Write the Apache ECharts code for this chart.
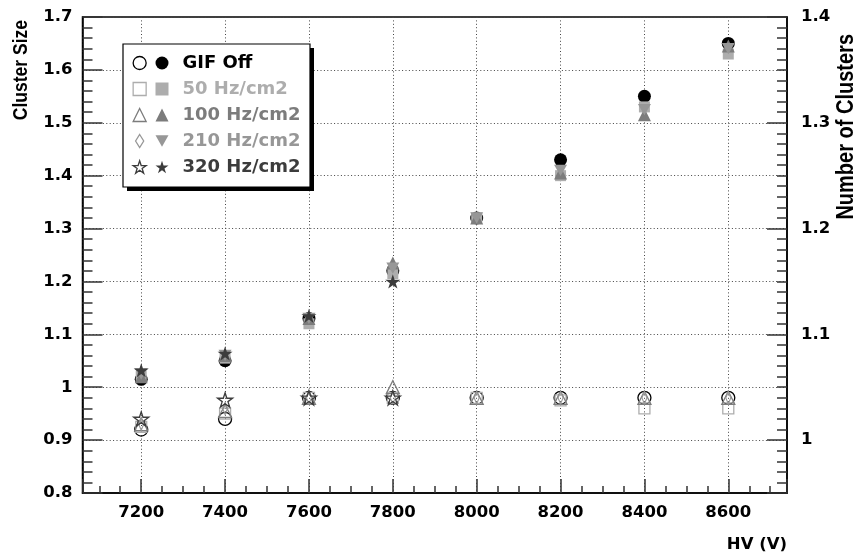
<!DOCTYPE html>
<html><head><meta charset="utf-8">
<script src="https://cdn.jsdelivr.net/npm/echarts@6/dist/echarts.min.js"></script>
<style>html,body{margin:0;padding:0;background:#fff}#c{width:856px;height:557px}</style>
</head><body><div id="c"></div>
<script>
// ---- data ----
const hv = [7200, 7400, 7600, 7800, 8000, 8200, 8400, 8600];
const rateNames = ['GIF Off', '50 Hz/cm2', '100 Hz/cm2', '210 Hz/cm2', '320 Hz/cm2'];
// Cluster size (left axis) - filled markers
const sizeGifOff = [1.015, 1.05, 1.13, 1.22, 1.32, 1.43, 1.55, 1.65];
const size50     = [1.02, 1.055, 1.12, 1.215, 1.32, 1.40, 1.53, 1.63];
const size100    = [1.02, 1.06, 1.13, 1.235, 1.32, 1.405, 1.515, 1.645];
const size210    = [1.025, 1.06, 1.13, 1.225, 1.32, 1.41, 1.525, 1.64];
const size320    = [1.032, 1.064, 1.135, 1.20];
// Number of clusters (right axis) - open markers
const numGifOff = [1.01, 1.02, 1.04, 1.04, 1.04, 1.04, 1.04, 1.04];
const num50     = [1.0125, 1.025, 1.04, 1.04, 1.04, 1.0375, 1.03, 1.03];
const num100    = [1.015, 1.0275, 1.04, 1.05, 1.04, 1.04, 1.04, 1.04];
const num210    = [1.015, 1.03, 1.04, 1.04, 1.04, 1.04, 1.04, 1.04];
const num320    = [1.02, 1.038, 1.04, 1.04];

const sizeSets = [sizeGifOff, size50, size100, size210, size320];
const numSets = [numGifOff, num50, num100, num210, num320];

// ---- styles ----
const colors = ['#000000', '#adadad', '#7c7c7c', '#979797', '#3c3c3c'];
const STAR = 'path://M50,0 L61.23,34.55 L97.55,34.55 L68.17,55.9 L79.39,90.45 L50,69.1 L20.61,90.45 L31.83,55.9 L2.45,34.55 L38.77,34.55 Z';
const DOWN = 'path://M0,0 L10,0 L5,8.66 Z';
const NDIAMOND = 'path://M5,0 L10,8 L5,16 L0,8 Z';
const filledSymbols = ['circle', 'rect', 'triangle', DOWN, STAR];
const openSymbols = ['circle', 'rect', 'triangle', NDIAMOND, STAR];
const filledSizes = [13, 11, 13, 13, 15];
const openSizes = [13, 11, 13, [8, 12], 15];
const CLEAR = 'rgba(0,0,0,0)';

const pairs = (vals) => vals.map((v, i) => [hv[i], v]);
const openName = (n) => n + ' (clusters)';

const series = [];
numSets.forEach((vals, k) => {
  series.push({
    name: openName(rateNames[k]), type: 'scatter', yAxisIndex: 1,
    symbol: openSymbols[k], symbolSize: openSizes[k], symbolKeepAspect: true,
    itemStyle: { color: CLEAR, borderColor: colors[k], borderWidth: 1.3, opacity: 1 },
    emphasis: { disabled: true }, z: 2,
    data: pairs(vals)
  });
});
sizeSets.forEach((vals, k) => {
  series.push({
    name: rateNames[k], type: 'scatter', yAxisIndex: 0,
    symbol: filledSymbols[k], symbolSize: filledSizes[k], symbolKeepAspect: true,
    itemStyle: { color: colors[k], borderWidth: 0, opacity: 1 },
    emphasis: { disabled: true }, z: 3,
    data: pairs(vals)
  });
});

const tickFont = { fontFamily: 'DejaVu Sans', fontWeight: 'bold', fontSize: 16.5, color: '#000' };
const tickLine = { color: '#333', width: 1.5 };
const gridLine = { color: '#444', width: 1, type: [1, 2.4] };

const chart = echarts.init(document.getElementById('c'), null, { renderer: 'canvas' });
chart.setOption({
  animation: false,
  backgroundColor: '#fff',
  grid: { left: 82.5, right: 69, top: 17, bottom: 64, show: true, borderColor: '#000', borderWidth: 1.5, backgroundColor: 'transparent' },
  xAxis: {
    type: 'value', min: 7060, max: 8740, minInterval: 200, maxInterval: 200, splitNumber: 8,
    axisLine: { show: true, onZero: false, lineStyle: { color: '#000', width: 1.5 } },
    axisTick: { show: true, inside: true, length: 14, lineStyle: tickLine },
    minorTick: { show: true, splitNumber: 4, length: 7, lineStyle: tickLine },
    splitLine: { show: true, lineStyle: gridLine },
    axisLabel: Object.assign({ showMinLabel: false, showMaxLabel: false, margin: 11, formatter: (v) => String(v) }, tickFont)
  },
  yAxis: [
    {
      type: 'value', position: 'left', min: 0.8, max: 1.7, interval: 0.1,
      axisLine: { show: true, onZero: false, lineStyle: { color: '#000', width: 1.5 } },
      axisTick: { show: true, inside: true, length: 20, lineStyle: tickLine },
      minorTick: { show: true, splitNumber: 5, length: 10, lineStyle: tickLine },
      splitLine: { show: true, lineStyle: gridLine },
      axisLabel: Object.assign({ margin: 10 }, tickFont)
    },
    {
      type: 'value', position: 'right', min: 0.95, max: 1.4, minInterval: 0.1, maxInterval: 0.1,
      axisLine: { show: true, onZero: false, lineStyle: { color: '#000', width: 1.5 } },
      axisTick: { show: true, inside: true, length: 20, lineStyle: tickLine },
      minorTick: { show: true, splitNumber: 10, length: 10, lineStyle: tickLine },
      splitLine: { show: false },
      axisLabel: Object.assign({ margin: 14, showMinLabel: false }, tickFont)
    }
  ],
  legend: [
    {
      orient: 'vertical', left: 132.5, top: 53, padding: 0, itemWidth: 13, itemHeight: 13, itemGap: 6,
      selectedMode: false, z: 6, formatter: () => ' ',
      textStyle: { fontFamily: 'DejaVu Sans', fontWeight: 'bold', fontSize: 18, lineHeight: 20 },
      data: rateNames.map((n, k) => ({
        name: openName(n), icon: openSymbols[k],
        itemStyle: { color: CLEAR, borderColor: colors[k], borderWidth: 1.3 }
      }))
    },
    {
      orient: 'vertical', left: 155.5, top: 53, padding: 0, itemWidth: 13, itemHeight: 13, itemGap: 6,
      selectedMode: false, z: 6,
      textStyle: { fontFamily: 'DejaVu Sans', fontWeight: 'bold', fontSize: 18, lineHeight: 20, padding: [0, 0, 0, 9] },
      data: rateNames.map((n, k) => ({
        name: n, icon: filledSymbols[k],
        itemStyle: { color: colors[k], borderWidth: 0 },
        textStyle: { color: colors[k] }
      }))
    }
  ],
  graphic: [
    {
      type: 'rect', z: 5, shape: { x: 127, y: 48, width: 187, height: 143 },
      style: { fill: '#000', stroke: null }
    },
    {
      type: 'rect', z: 5, shape: { x: 123, y: 44, width: 187, height: 143 },
      style: { fill: '#fff', stroke: '#000', lineWidth: 1.2 }
    },
    {
      type: 'text', z: 5, x: 21, y: 20, rotation: Math.PI / 2, scaleY: 1.2,
      style: { text: 'Cluster Size', font: 'bold 17.5px "Liberation Sans"', fill: '#000', align: 'right', verticalAlign: 'middle' }
    },
    {
      type: 'text', z: 5, x: 846, y: 34, rotation: Math.PI / 2, scaleY: 1.2,
      style: { text: 'Number of Clusters', font: 'bold 20px "Liberation Sans"', fill: '#000', align: 'right', verticalAlign: 'middle' }
    },
    {
      type: 'text', z: 5, x: 787, y: 545,
      style: { text: 'HV (V)', font: 'bold 16.5px "DejaVu Sans"', fill: '#000', align: 'right', verticalAlign: 'middle' }
    }
  ],
  series: series
});
</script></body></html>
